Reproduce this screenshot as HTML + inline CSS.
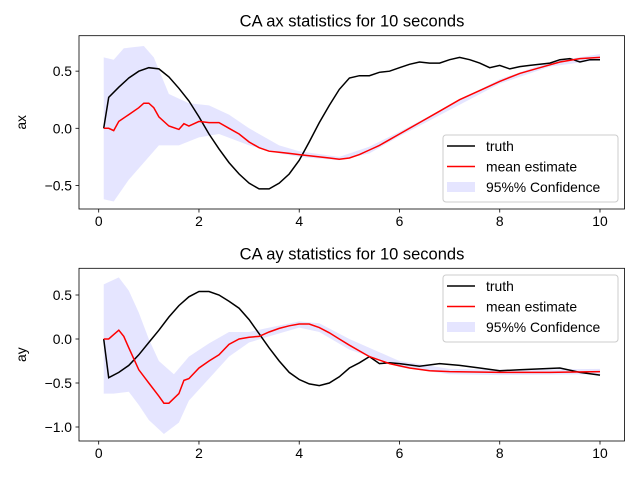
<!DOCTYPE html>
<html><head><meta charset="utf-8"><style>
body{margin:0;background:#fff;}
svg{font-family:"Liberation Sans","DejaVu Sans",sans-serif;}
</style></head><body>
<svg id="c" width="640" height="480" xmlns="http://www.w3.org/2000/svg"></svg>
<script>
const xTicks=[0,2,4,6,8,10];
const axTicks=[0.5,0.0,-0.5];
const ayTicks=[0.5,0.0,-0.5,-1.0];
const axTruthT=[0.1,0.2,0.4,0.6,0.8,1.0,1.2,1.4,1.6,1.8,2.0,2.2,2.4,2.6,2.8,3.0,3.2,3.4,3.6,3.8,4.0,4.2,4.4,4.6,4.8,5.0,5.2,5.4,5.6,5.8,6.0,6.2,6.4,6.6,6.8,7.0,7.2,7.4,7.6,7.8,8.0,8.2,8.4,8.6,8.8,9.0,9.2,9.4,9.6,9.8,10.0];
const axTruth=[0,0.27,0.36,0.44,0.5,0.53,0.52,0.45,0.35,0.24,0.1,-0.05,-0.18,-0.3,-0.4,-0.48,-0.53,-0.53,-0.48,-0.4,-0.28,-0.12,0.05,0.2,0.34,0.44,0.46,0.46,0.49,0.5,0.53,0.56,0.58,0.57,0.57,0.6,0.62,0.6,0.57,0.53,0.55,0.52,0.54,0.55,0.56,0.57,0.6,0.61,0.58,0.6,0.6];
const axMeanT=[0.1,0.2,0.3,0.4,0.6,0.8,0.9,1.0,1.1,1.2,1.4,1.6,1.7,1.8,2.0,2.2,2.4,2.6,2.8,3.0,3.2,3.4,3.6,3.8,4.0,4.2,4.4,4.6,4.8,5.0,5.2,5.4,5.6,5.8,6.0,6.4,6.8,7.2,7.6,8.0,8.4,8.8,9.2,9.6,10];
const axMean=[0,0,-0.02,0.06,0.12,0.18,0.22,0.22,0.18,0.1,0.02,-0.01,0.04,0.02,0.06,0.05,0.05,0,-0.05,-0.12,-0.17,-0.2,-0.21,-0.22,-0.23,-0.24,-0.25,-0.26,-0.27,-0.26,-0.23,-0.19,-0.15,-0.1,-0.05,0.05,0.15,0.25,0.33,0.41,0.48,0.53,0.58,0.61,0.62];
const axUpT=[0.1,0.3,0.5,0.9,1.1,1.4,1.8,2.2,2.6,3.0,3.6,4.0,4.8,5.4,6,7,8,9,10];
const axUp=[0.62,0.6,0.7,0.72,0.62,0.3,0.22,0.2,0.12,0,-0.15,-0.2,-0.25,-0.16,-0.03,0.2,0.43,0.58,0.65];
const axLoT=[0.1,0.3,0.6,0.9,1.2,1.6,2.0,2.4,3.0,3.6,4.0,4.8,5.4,6,7,8,9,10];
const axLo=[-0.62,-0.64,-0.45,-0.3,-0.15,-0.15,-0.08,-0.05,-0.15,-0.22,-0.25,-0.28,-0.22,-0.07,0.16,0.39,0.54,0.6];
const ayTruthT=[0.1,0.2,0.4,0.6,0.8,1.0,1.2,1.4,1.6,1.8,2.0,2.2,2.4,2.6,2.8,3.0,3.2,3.4,3.6,3.8,4.0,4.2,4.4,4.6,4.8,5.0,5.2,5.4,5.6,5.8,6.0,6.4,6.8,7.2,7.6,8.0,8.4,8.8,9.2,9.6,10];
const ayTruth=[0,-0.44,-0.38,-0.3,-0.18,-0.04,0.1,0.25,0.38,0.48,0.54,0.54,0.5,0.43,0.35,0.22,0.06,-0.1,-0.25,-0.38,-0.46,-0.51,-0.53,-0.5,-0.43,-0.33,-0.27,-0.2,-0.28,-0.27,-0.28,-0.31,-0.28,-0.3,-0.33,-0.36,-0.35,-0.34,-0.33,-0.38,-0.41];
const ayMeanT=[0.1,0.2,0.3,0.4,0.5,0.6,0.8,1.0,1.2,1.3,1.4,1.6,1.7,1.8,2.0,2.2,2.4,2.6,2.8,3.0,3.2,3.4,3.6,3.8,4.0,4.2,4.4,4.6,4.8,5.0,5.4,5.8,6.2,6.6,7,8,9,10];
const ayMean=[0,0,0.05,0.1,0.03,-0.1,-0.35,-0.5,-0.65,-0.73,-0.73,-0.62,-0.47,-0.45,-0.33,-0.25,-0.18,-0.06,0,0.02,0.03,0.08,0.12,0.15,0.17,0.17,0.13,0.07,0,-0.07,-0.2,-0.28,-0.33,-0.36,-0.37,-0.38,-0.38,-0.37];
const ayUpT=[0.1,0.4,0.6,0.8,1.0,1.2,1.5,1.8,2.2,2.6,3.0,3.4,4.0,4.4,5.0,6,7,8,10];
const ayUp=[0.62,0.7,0.55,0.3,0,-0.25,-0.4,-0.2,-0.05,0.08,0.08,0.13,0.2,0.18,0,-0.25,-0.34,-0.35,-0.34];
const ayLoT=[0.1,0.3,0.6,0.8,1.0,1.3,1.6,1.8,2.2,2.6,3.0,3.4,4.0,4.4,5.0,6,7,8,10];
const ayLo=[-0.62,-0.62,-0.6,-0.75,-0.92,-1.08,-0.95,-0.7,-0.45,-0.2,-0.04,0.03,0.13,0.08,-0.12,-0.32,-0.4,-0.41,-0.4];

const svg=document.getElementById('c');
const NS='http://www.w3.org/2000/svg';
function mk(tag,attrs,parent){const e=document.createElementNS(NS,tag);for(const k in attrs)e.setAttribute(k,attrs[k]);(parent||svg).appendChild(e);return e;}
function panel(o){
  const g=mk('g',{});
  
  
  const X=v=>98.7+(v)*50.13;
  const Y=v=>o.y0-v*o.k;
  const pts=(ts,vs)=>ts.map((t,i)=>X(t).toFixed(1)+','+Y(vs[i]).toFixed(1));
  const band=mk('polygon',{points:pts(o.upT,o.up).concat(pts(o.loT,o.lo).reverse()).join(' '),fill:'#0000ff',opacity:0.1},g);
  
  
  const tr=mk('polyline',{points:pts(o.tT,o.t).join(' '),fill:'none',stroke:'#000','stroke-width':1.5},g);
  
  
  const mn=mk('polyline',{points:pts(o.mT,o.m).join(' '),fill:'none',stroke:'#ff0000','stroke-width':1.5},g);
  
  
  mk('rect',{x:79,y:o.top,width:545.5,height:o.bot-o.top,fill:'none',stroke:'#000','stroke-width':0.8},g);
  xTicks.forEach(t=>{
    mk('line',{x1:X(t),x2:X(t),y1:o.bot,y2:o.bot+3.5,stroke:'#000','stroke-width':0.8},g);
    const tx=mk('text',{x:X(t),y:o.bot+17,'font-size':13.9,'text-anchor':'middle'},g);tx.textContent=t;
    
    
  });
  o.ticks.forEach(t=>{
    mk('line',{x1:79,x2:75.5,y1:Y(t),y2:Y(t),stroke:'#000','stroke-width':0.8},g);
    const tx=mk('text',{x:72,y:Y(t)+5,'font-size':13.9,'text-anchor':'end'},g);tx.textContent=(t<0?'\u2212':'')+Math.abs(t).toFixed(1);
    
    
  });
  const yl=mk('text',{x:0,y:0,'font-size':13.9,'text-anchor':'middle',transform:`translate(26,${(o.top+o.bot)/2}) rotate(-90)`},g);yl.textContent=o.ylabel;
  
  
  const ti=mk('text',{x:352,y:o.top-9,'font-size':16.5,'text-anchor':'middle'},g);ti.textContent=o.title;
  
  
  const lg=mk('g',{},g);
  
  
  const ly=o.legY;
  mk('rect',{x:443,y:ly,width:175,height:67,rx:3,fill:'#fff','fill-opacity':0.8,stroke:'#ccc','stroke-width':1},lg);
  const items=[['truth','#000'],['mean estimate','#f00'],['95%% Confidence','band']];
  items.forEach((it,i)=>{
    const cy=ly+11+i*20.5;
    if(it[1]==='band')mk('rect',{x:447,y:cy-5,width:28,height:10,fill:'#0000ff',opacity:0.1},lg);
    else mk('line',{x1:447,x2:475,y1:cy,y2:cy,stroke:it[1],'stroke-width':1.5},lg);
    const t=mk('text',{x:486,y:cy+5,'font-size':13.9},lg);t.textContent=it[0];
    
    
  });
}
panel({name:'ax-panel',y0:128.3,k:114.3,top:35.7,bot:209,ticks:axTicks,ylabel:'ax',title:'CA ax statistics for 10 seconds',legY:135,
  tT:axTruthT,t:axTruth,mT:axMeanT,m:axMean,upT:axUpT,up:axUp,loT:axLoT,lo:axLo});
panel({name:'ay-panel',y0:339,k:88,top:268.3,bot:441,ticks:ayTicks,ylabel:'ay',title:'CA ay statistics for 10 seconds',legY:275,
  tT:ayTruthT,t:ayTruth,mT:ayMeanT,m:ayMean,upT:ayUpT,up:ayUp,loT:ayLoT,lo:ayLo});
</script>
</body></html>
